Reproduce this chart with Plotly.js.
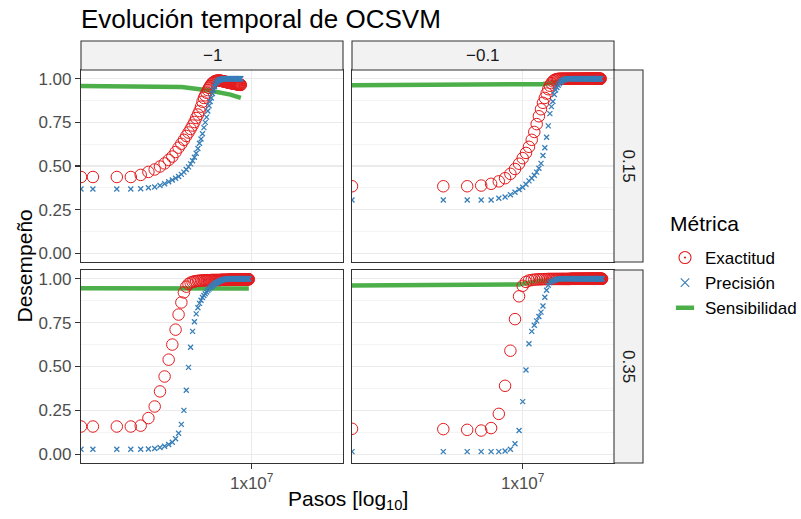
<!DOCTYPE html>
<html>
<head>
<meta charset="utf-8">
<script src="https://cdn.plot.ly/plotly-3.0.1.min.js"></script>
<style>
  html, body { margin: 0; padding: 0; background: #ffffff; }
  #grafico { width: 801px; height: 519px; }
</style>
</head>
<body>
<div id="grafico"></div>
<script>
// Facetas: columnas por nu, filas por gamma
const columnasNu = ['\u22121', '\u22120.1'];
const filasGamma = ['0.15', '0.35'];
// Pasos entre evaluaciones consecutivas en cada columna
const intervaloPasos = [1e5, 1e6];

const metricas = ['Exactitud', 'Precisi\u00f3n', 'Sensibilidad'];
const colores = ['#E41A1C', '#377EB8', '#4DAF4A'];

const marcasX = [1e7];
const etiquetasX = ['1x10<sup>7</sup>'];
const marcasY = [0, 0.25, 0.5, 0.75, 1];
const etiquetasY = ['0.00', '0.25', '0.50', '0.75', '1.00'];
const marcasYMenores = [0.125, 0.375, 0.625, 0.875];
const limitesY = [0, 1];

// nu = -1, gamma = 0.15
const exactitudNu1G015 = [
  0.437,0.437,0.437,0.437,0.449,0.466,0.480,0.497,0.515,0.535,
  0.554,0.580,0.605,0.627,0.650,0.672,0.692,0.712,0.732,0.752,
  0.775,0.795,0.815,0.840,0.868,0.890,0.905,0.920,0.935,0.948,
  0.958,0.968,0.975,0.980,0.984,0.987,0.988,0.989,0.990,0.990,
  0.989,0.988,0.987,0.986,0.985,0.984,0.983,0.982,0.981,0.980,
  0.979,0.978,0.977,0.976,0.976,0.975,0.974,0.973,0.973,0.972,
  0.971,0.971,0.970,0.970,0.969,0.969,0.968,0.968,0.967,0.967,
  0.966,0.966,0.965,0.965];
const precisionNu1G015 = [
  0.368,0.368,0.368,0.368,0.370,0.375,0.380,0.388,0.398,0.410,
  0.420,0.430,0.440,0.452,0.465,0.480,0.495,0.512,0.530,0.550,
  0.573,0.600,0.630,0.655,0.685,0.720,0.750,0.780,0.815,0.845,
  0.870,0.890,0.915,0.935,0.955,0.968,0.978,0.985,0.990,0.993,
  0.995,0.996,0.997,0.998,0.998,0.999,1,1,1,1,
  1,1,1,1,1,1,1,1,1,1,
  1,1,1,1,1,1,1,1,1,1,
  1,1,1,1];
const sensibilidadNu1G015 = [
  0.958,0.958,0.958,0.958,0.958,0.958,0.958,0.958,0.957,0.956,
  0.955,0.954,0.953,0.952,0.951,0.950,0.948,0.947,0.945,0.944,
  0.943,0.942,0.941,0.940,0.939,0.938,0.936,0.935,0.934,0.932,
  0.931,0.930,0.929,0.928,0.927,0.926,0.925,0.925,0.924,0.924,
  0.923,0.922,0.921,0.920,0.919,0.918,0.917,0.916,0.915,0.914,
  0.913,0.912,0.911,0.910,0.909,0.908,0.907,0.906,0.905,0.904,
  0.903,0.902,0.901,0.900,0.899,0.898,0.897,0.896,0.895,0.894,
  0.893,0.892,0.891,0.890];

// nu = -1, gamma = 0.35
const exactitudNu1G035 = [
  0.158,0.158,0.158,0.158,0.163,0.206,0.272,0.358,0.443,0.539,
  0.625,0.710,0.796,0.865,0.922,0.955,0.970,0.978,0.982,0.985,
  0.987,0.988,0.989,0.990,0.990,0.991,0.991,0.991,0.992,0.992,
  0.992,0.993,0.993,0.993,0.993,0.993,0.993,0.993,0.993,0.993,
  0.993,0.994,0.994,0.994,0.994,0.994,0.994,0.994,0.994,0.994,
  0.994,0.995,0.995,0.995,0.995,0.995,0.995,0.995,0.995,0.995,
  0.995,0.995,0.995,0.995,0.995,0.995,0.995,0.995,0.995,0.995,
  0.995,0.996,0.996,0.996,0.996,0.996,0.996,0.996,0.996,0.996,
  0.996,0.996,0.996,0.996,0.996,0.996,0.997,0.997,0.997,0.997,
  0.997,0.997,0.997];
const precisionNu1G035 = [
  0.028,0.028,0.028,0.028,0.028,0.030,0.033,0.038,0.045,0.055,
  0.068,0.088,0.120,0.170,0.250,0.365,0.495,0.610,0.700,0.755,
  0.800,0.835,0.860,0.878,0.893,0.905,0.915,0.925,0.934,0.942,
  0.950,0.955,0.960,0.965,0.970,0.974,0.977,0.980,0.983,0.986,
  0.988,0.990,0.992,0.994,0.995,0.996,0.997,0.998,0.998,0.999,
  1,1,1,1,1,1,1,1,1,1,
  1,1,1,1,1,1,1,1,1,1,
  1,1,1,1,1,1,1,1,1,1,
  1,1,1,1,1,1,1,1,1,1,
  1,1,1];
const sensibilidadNu1G035 = [
  0.946,0.946,0.946,0.946,0.944,0.944,0.944,0.944,0.942,0.942,
  0.942,0.942,0.942,0.942,0.942,0.943,0.943,0.943,0.943,0.943,
  0.943,0.943,0.943,0.943,0.943,0.943,0.943,0.943,0.943,0.943,
  0.943,0.944,0.944,0.944,0.944,0.944,0.944,0.944,0.944,0.944,
  0.944,0.944,0.944,0.944,0.944,0.944,0.944,0.944,0.944,0.944,
  0.944,0.944,0.944,0.944,0.944,0.944,0.944,0.944,0.944,0.944,
  0.944,0.944,0.944,0.944,0.944,0.944,0.944,0.944,0.944,0.944,
  0.944,0.944,0.944,0.944,0.944,0.944,0.944,0.944,0.944,0.944,
  0.944,0.944,0.944,0.944,0.944,0.944,0.944,0.944,0.944,0.944,
  0.944,0.944,0.944];

// nu = -0.1, gamma = 0.15
const exactitudNu01G015 = [
  0.384,0.384,0.384,0.388,0.398,0.412,0.430,0.455,0.483,0.513,
  0.545,0.575,0.610,0.650,0.695,0.740,0.785,0.825,0.862,0.890,
  0.915,0.940,0.960,0.975,0.985,0.992,0.996,0.998,0.999,1,
  1,1,1,1,1,1,1,1,1,1,
  1,1,1,1,1,1,1,1,1,1,
  1,1,1,1,1,1,1,1,1,1,
  1,1,1,1,1,1,1,1,1,1,
  1,1,1,1,1,1,1,1,1,1,
  1,1,1,1,1,1,1,1,1,1,
  1,1,1,1,1,1,1];
const precisionNu01G015 = [
  0.305,0.305,0.305,0.305,0.305,0.315,0.322,0.335,0.350,0.365,
  0.378,0.395,0.415,0.430,0.447,0.465,0.487,0.515,0.560,0.605,
  0.665,0.730,0.800,0.840,0.870,0.910,0.935,0.950,0.963,0.972,
  0.980,0.986,0.991,0.994,0.996,0.998,0.999,1,1,1,
  1,1,1,1,1,1,1,1,1,1,
  1,1,1,1,1,1,1,1,1,1,
  1,1,1,1,1,1,1,1,1,1,
  1,1,1,1,1,1,1,1,1,1,
  1,1,1,1,1,1,1,1,1,1,
  1,1,1,1,1,1,1];
const sensibilidadNu01G015 = [
  0.963,0.963,0.963,0.963,0.963,0.964,0.964,0.964,0.964,0.965,
  0.966,0.966,0.967,0.967,0.968,0.968,0.969,0.969,0.970,0.970,
  0.971,0.972,0.974,0.976,0.978,0.980,0.982,0.984,0.985,0.986,
  0.987,0.987,0.987,0.987,0.987,0.987,0.987,0.987,0.987,0.987,
  0.988,0.988,0.988,0.988,0.988,0.988,0.988,0.988,0.988,0.988,
  0.988,0.988,0.988,0.988,0.988,0.988,0.988,0.988,0.988,0.988,
  0.988,0.988,0.988,0.988,0.988,0.988,0.988,0.988,0.988,0.988,
  0.988,0.988,0.988,0.988,0.988,0.988,0.988,0.988,0.988,0.988,
  0.988,0.988,0.988,0.988,0.988,0.988,0.988,0.988,0.988,0.988,
  0.988,0.988,0.988,0.988,0.988,0.988,0.988];

// nu = -0.1, gamma = 0.35
const exactitudNu01G035 = [
  0.145,0.143,0.139,0.135,0.149,0.230,0.390,0.590,0.770,0.900,
  0.960,0.982,0.990,0.993,0.995,0.996,0.997,0.997,0.998,0.998,
  0.998,0.999,0.999,0.999,0.999,0.999,0.999,0.999,0.999,0.999,
  0.999,0.999,0.999,0.999,0.999,0.999,0.999,0.999,0.999,0.999,
  1,1,1,1,1,1,1,1,1,1,
  1,1,1,1,1,1,1,1,1,1,
  1,1,1,1,1,1,1,1,1,1,
  1,1,1,1,1,1,1,1,1,1,
  1,1,1,1,1,1,1,1,1,1,
  1,1,1,1,1,1,1,1,1,1,
  1];
const precisionNu01G035 = [
  0.015,0.015,0.015,0.015,0.015,0.015,0.018,0.028,0.060,0.135,
  0.300,0.480,0.630,0.700,0.735,0.760,0.785,0.810,0.845,0.895,
  0.935,0.963,0.977,0.984,0.988,0.992,0.995,0.997,0.998,0.999,
  1,1,1,1,1,1,1,1,1,1,
  1,1,1,1,1,1,1,1,1,1,
  1,1,1,1,1,1,1,1,1,1,
  1,1,1,1,1,1,1,1,1,1,
  1,1,1,1,1,1,1,1,1,1,
  1,1,1,1,1,1,1,1,1,1,
  1,1,1,1,1,1,1,1,1,1,
  1];
const sensibilidadNu01G035 = [
  0.962,0.962,0.962,0.962,0.962,0.964,0.964,0.964,0.964,0.967,
  0.972,0.976,0.980,0.983,0.985,0.987,0.988,0.988,0.989,0.989,
  0.990,0.990,0.990,0.990,0.990,0.990,0.990,0.990,0.990,0.990,
  0.990,0.990,0.990,0.990,0.990,0.990,0.990,0.990,0.990,0.990,
  0.990,0.990,0.990,0.990,0.990,0.990,0.990,0.990,0.990,0.990,
  0.990,0.990,0.990,0.990,0.990,0.990,0.990,0.990,0.990,0.990,
  0.990,0.990,0.990,0.990,0.990,0.990,0.990,0.990,0.990,0.990,
  0.990,0.990,0.990,0.990,0.990,0.990,0.990,0.990,0.990,0.990,
  0.990,0.990,0.990,0.990,0.990,0.990,0.990,0.990,0.990,0.990,
  0.990,0.990,0.990,0.990,0.990,0.990,0.990,0.990,0.990,0.990,
  0.990];

const paneles = [
  { fila: 0, col: 0, series: [exactitudNu1G015, precisionNu1G015, sensibilidadNu1G015] },
  { fila: 0, col: 1, series: [exactitudNu01G015, precisionNu01G015, sensibilidadNu01G015] },
  { fila: 1, col: 0, series: [exactitudNu1G035, precisionNu1G035, sensibilidadNu1G035] },
  { fila: 1, col: 1, series: [exactitudNu01G035, precisionNu01G035, sensibilidadNu01G035] }
];

function pasosDe(n, intervalo) {
  const p = [];
  for (let k = 0; k < n; k++) p.push(k * intervalo);
  return p;
}

// Escala log10 compartida, con 5% de margen a cada lado
let minLog = Infinity, maxLog = -Infinity;
paneles.forEach(p => {
  pasosDe(p.series[0].length, intervaloPasos[p.col]).forEach(v => {
    if (v > 0) {
      minLog = Math.min(minLog, Math.log10(v));
      maxLog = Math.max(maxLog, Math.log10(v));
    }
  });
});
const margenX = 0.05 * (maxLog - minLog);
const rangoX = [minLog - margenX, maxLog + margenX];
// El paso 0 (log = -Inf) se dibuja en el borde izquierdo del panel
const bordeIzq = Math.pow(10, rangoX[0]);
const margenY = 0.05 * (limitesY[1] - limitesY[0]);
const rangoY = [limitesY[0] - margenY, limitesY[1] + margenY];

// Geometría de la rejilla de paneles (fracciones del área de trazado)
const anchoArea = 533, altoArea = 393;
const dominiosX = [[0, 262 / anchoArea], [271 / anchoArea, 1]];
const dominiosY = [[201 / altoArea, 1], [0, 193 / altoArea]];
const altoTira = 29 / altoArea;
const anchoTira = 29 / anchoArea;

const fuente = 'Liberation Sans, Arial, sans-serif';
const trazas = [];
const layout = {
  width: 801, height: 519,
  margin: { l: 81, r: 187, t: 70, b: 56, autoexpand: false },
  paper_bgcolor: '#ffffff', plot_bgcolor: '#ffffff',
  font: { family: fuente, color: '#000000' },
  showlegend: true,
  title: {
    text: 'Evoluci\u00f3n temporal de OCSVM',
    x: 0, xref: 'paper', xanchor: 'left',
    y: 1 - 19 / 519, yref: 'container', yanchor: 'middle',
    font: { family: fuente, size: 26, color: '#000000' }
  },
  legend: {
    x: (665 - 81) / anchoArea, xanchor: 'left',
    y: (463 - 240) / altoArea, yanchor: 'top',
    bgcolor: 'rgba(0,0,0,0)',
    itemwidth: 30, tracegroupgap: 0,
    font: { family: fuente, size: 17, color: '#000000' }
  },
  shapes: [],
  annotations: []
};

paneles.forEach((p, i) => {
  const n = i + 1;
  const sufijo = n === 1 ? '' : String(n);
  const ejeX = 'x' + sufijo, ejeY = 'y' + sufijo;
  const xs = pasosDe(p.series[0].length, intervaloPasos[p.col]).map(v => v > 0 ? v : bordeIzq);

  trazas.push({
    x: xs, y: p.series[2], xaxis: ejeX, yaxis: ejeY,
    type: 'scatter', mode: 'lines', showlegend: false, hoverinfo: 'skip',
    line: { color: colores[2], width: 4.5 }
  });
  trazas.push({
    x: xs, y: p.series[0], xaxis: ejeX, yaxis: ejeY,
    type: 'scatter', mode: 'markers', showlegend: false, hoverinfo: 'skip',
    marker: { symbol: 'circle-open', size: 11.5, color: colores[0], line: { width: 1, color: colores[0] } }
  });
  trazas.push({
    x: xs, y: p.series[1], xaxis: ejeX, yaxis: ejeY,
    type: 'scatter', mode: 'markers', showlegend: false, hoverinfo: 'skip',
    marker: { symbol: 'x-thin-open', size: 5, color: colores[1], line: { width: 1.3, color: colores[1] } }
  });

  const abajo = p.fila === 1, izquierda = p.col === 0;
  layout['xaxis' + sufijo] = {
    type: 'log', range: rangoX, domain: dominiosX[p.col], anchor: ejeY,
    tickmode: 'array', tickvals: marcasX, ticktext: etiquetasX,
    showticklabels: abajo, ticks: abajo ? 'outside' : '', ticklen: 5, tickwidth: 1.07, tickcolor: '#333333',
    tickfont: { family: fuente, size: 17, color: '#4D4D4D' },
    showgrid: true, gridcolor: '#EBEBEB', gridwidth: 1.07, zeroline: false,
    showline: true, linecolor: '#333333', linewidth: 1.07, mirror: true, fixedrange: true
  };
  layout['yaxis' + sufijo] = {
    range: rangoY, domain: dominiosY[p.fila], anchor: ejeX,
    tickmode: 'array', tickvals: marcasY, ticktext: etiquetasY,
    showticklabels: izquierda, ticks: izquierda ? 'outside' : '', ticklen: 5, tickwidth: 1.07, tickcolor: '#333333',
    tickfont: { family: fuente, size: 17, color: '#4D4D4D' },
    showgrid: true, gridcolor: '#EBEBEB', gridwidth: 1.07, zeroline: false,
    minor: { tickmode: 'array', tickvals: marcasYMenores, showgrid: true, gridcolor: '#EBEBEB', gridwidth: 0.55, ticks: '' },
    showline: true, linecolor: '#333333', linewidth: 1.07, mirror: true, fixedrange: true
  };
});

// Entradas de la leyenda
const simbolosLeyenda = [
  { symbol: 'circle-open-dot', size: 12, color: colores[0], line: { width: 1.1, color: colores[0] } },
  { symbol: 'x-thin-open', size: 8.5, color: colores[1], line: { width: 1.1, color: colores[1] } },
  { symbol: 'line-ew-open', size: 13, color: colores[2], line: { width: 4.5, color: colores[2] } }
];
metricas.forEach((m, j) => {
  trazas.push({
    x: [null], y: [null], type: 'scatter', mode: 'markers', name: m,
    marker: simbolosLeyenda[j], hoverinfo: 'skip', showlegend: true
  });
});

// Título de la leyenda
layout.annotations.push({
  text: 'M\u00e9trica', xref: 'paper', yref: 'paper',
  x: (668 - 81) / anchoArea, y: (463 - 224) / altoArea,
  xanchor: 'left', yanchor: 'middle', showarrow: false,
  font: { family: fuente, size: 21, color: '#000000' }
});

// Tiras de las facetas
columnasNu.forEach((etq, c) => {
  layout.shapes.push({
    type: 'rect', xref: 'paper', yref: 'paper',
    x0: dominiosX[c][0], x1: dominiosX[c][1], y0: 1, y1: 1 + altoTira,
    fillcolor: '#F2F2F2', line: { color: '#333333', width: 1.07 }
  });
  layout.annotations.push({
    text: etq, xref: 'paper', yref: 'paper',
    x: (dominiosX[c][0] + dominiosX[c][1]) / 2, y: 1 + altoTira / 2,
    xanchor: 'center', yanchor: 'middle', showarrow: false,
    font: { family: fuente, size: 17, color: '#1A1A1A' }
  });
});
filasGamma.forEach((etq, f) => {
  layout.shapes.push({
    type: 'rect', xref: 'paper', yref: 'paper',
    x0: 1, x1: 1 + anchoTira, y0: dominiosY[f][0], y1: dominiosY[f][1],
    fillcolor: '#F2F2F2', line: { color: '#333333', width: 1.07 }
  });
  layout.annotations.push({
    text: etq, xref: 'paper', yref: 'paper',
    x: 1 + anchoTira / 2, y: (dominiosY[f][0] + dominiosY[f][1]) / 2,
    xanchor: 'center', yanchor: 'middle', textangle: 90, showarrow: false,
    font: { family: fuente, size: 17, color: '#1A1A1A' }
  });
});

// Títulos de los ejes
layout.annotations.push({
  text: 'Pasos [log<sub>10</sub>]', xref: 'paper', yref: 'paper',
  x: 0.5, y: (463 - 500) / altoArea, xanchor: 'center', yanchor: 'middle', showarrow: false,
  font: { family: fuente, size: 21, color: '#000000' }
});
layout.annotations.push({
  text: 'Desempe\u00f1o', xref: 'paper', yref: 'paper',
  x: (24 - 81) / anchoArea, y: 0.5, xanchor: 'center', yanchor: 'middle', textangle: -90, showarrow: false,
  font: { family: fuente, size: 21, color: '#000000' }
});

Plotly.newPlot('grafico', trazas, layout, { displayModeBar: false, staticPlot: true });
</script>
</body>
</html>
